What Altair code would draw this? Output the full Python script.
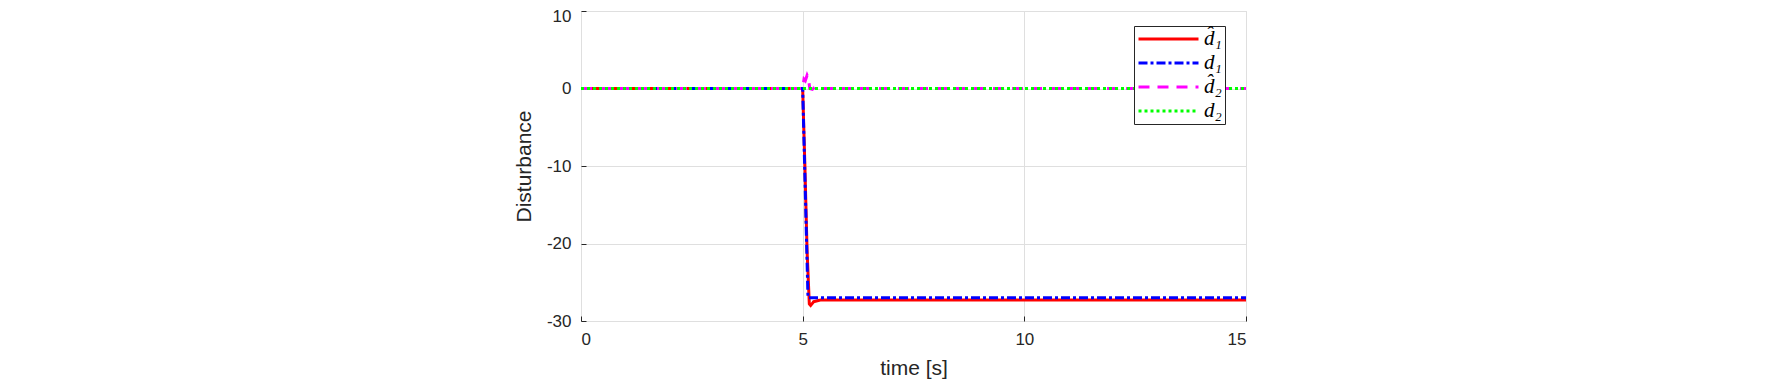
import altair as alt
import pandas as pd

series_names = ["d\u0302\u2081", "d\u2081", "d\u0302\u2082", "d\u2082"]
series_colors = ["#FF0000", "#0000FF", "#FF00FF", "#00FF00"]
series_dashes = [[1, 0], [9, 3, 3, 3], [11, 8], [3, 3]]

# d-hat 1 (estimate)
t_dh1 = [0, 5.0, 5.05, 5.1, 5.15, 5.18, 5.25, 5.4, 6.0, 15]
v_dh1 = [0, 0, -10, -21, -27.8, -28.0, -27.5, -27.3, -27.3, -27.3]
# d 1 (true)
t_d1 = [0, 5.0, 5.12, 6.0, 15]
v_d1 = [0, 0, -27.0, -27.0, -27.0]
# d-hat 2 (estimate)
t_dh2 = [0, 5.0, 5.03, 5.06, 5.1, 5.13, 5.16, 5.22, 5.28, 5.35, 15]
v_dh2 = [0, 0, 1.2, 1.0, 1.7, 1.3, 0, -0.1, 0.2, 0, 0]
# d 2 (true)
t_d2 = [0, 15]
v_d2 = [0, 0]

x_ticks = [0, 5, 10, 15]
y_ticks = [-30, -20, -10, 0, 10]

rows = []
for name, ts, vs in zip(series_names, [t_dh1, t_d1, t_dh2, t_d2], [v_dh1, v_d1, v_dh2, v_d2]):
    for i, (t, v) in enumerate(zip(ts, vs)):
        rows.append({"series": name, "t": t, "v": v, "i": i})
df = pd.DataFrame(rows)

legend_cfg = dict(
    title=None,
    orient="none",
    legendX=553,
    legendY=15,
    fillColor="white",
    strokeColor="#262626",
    padding=3,
    symbolType="stroke",
    symbolSize=3600,
    symbolStrokeWidth=3,
    labelFont="Liberation Serif",
    labelFontStyle="italic",
    labelFontSize=21,
    labelColor="#000000",
    clipHeight=20,
    rowPadding=3,
    labelOffset=4,
)

axis_common = dict(
    grid=True,
    gridColor="#DFDFDF",
    gridWidth=1,
    domain=False,
    ticks=True,
    tickColor="#262626",
    tickSize=5,
    labelFont="Liberation Sans",
    labelFontSize=17,
    labelColor="#262626",
    labelExpr="'' + datum.value",
    titleFont="Liberation Sans",
    titleFontSize=21,
    titleFontWeight="normal",
    titleColor="#262626",
)

chart = (
    alt.Chart(df)
    .mark_line(strokeWidth=3, clip=True)
    .encode(
        x=alt.X(
            "t:Q",
            scale=alt.Scale(domain=[0, 15], nice=False, zero=False),
            axis=alt.Axis(values=x_ticks, title="time [s]", offset=-5,
                          labelPadding=10, titlePadding=10, **axis_common),
        ),
        y=alt.Y(
            "v:Q",
            scale=alt.Scale(domain=[-30, 10], nice=False, zero=False),
            axis=alt.Axis(values=y_ticks, title="Disturbance", offset=-5,
                          labelPadding=10, titlePadding=12,
                          labelOffset=alt.condition("datum.value == 10", alt.value(5), alt.value(0)),
                          **axis_common),
        ),
        color=alt.Color(
            "series:N",
            scale=alt.Scale(domain=series_names, range=series_colors),
            legend=alt.Legend(**legend_cfg),
        ),
        strokeDash=alt.StrokeDash(
            "series:N",
            scale=alt.Scale(domain=series_names, range=series_dashes),
            legend=alt.Legend(**legend_cfg),
        ),
        order="i:Q",
    )
    .properties(
        width=665,
        height=310,
        autosize=alt.AutoSizeParams(type="none"),
        padding={"left": 573, "top": 3, "right": 60, "bottom": 60},
    )
    .configure_view(stroke="#262626", strokeWidth=1)
    .configure(background="white")
)

chart.save("out.html", embed_options={"renderer": "svg", "actions": False})
